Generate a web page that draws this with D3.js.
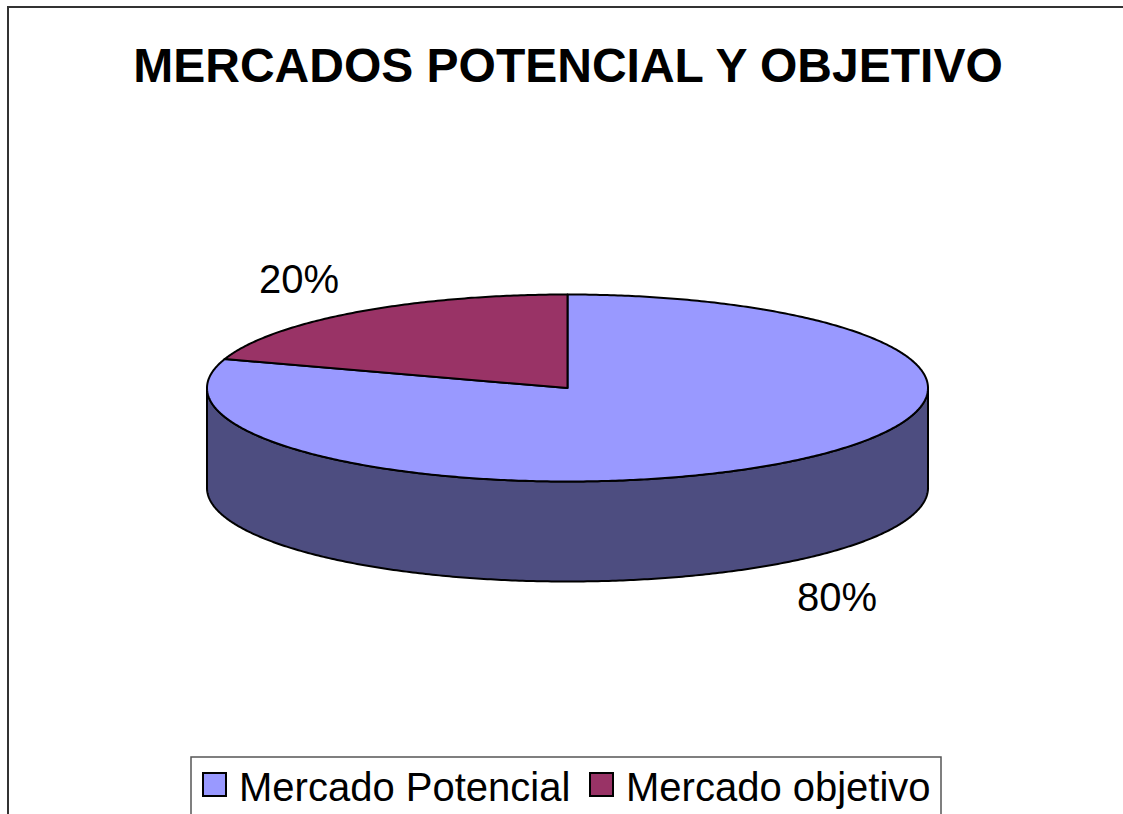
<!DOCTYPE html>
<html><head><meta charset="utf-8">
<script src="https://cdn.jsdelivr.net/npm/d3@7"></script>
<style>html,body{margin:0;padding:0;background:#fff;}svg{display:block;font-family:Arial,"Liberation Sans",sans-serif;}</style>
</head><body>
<svg id="chart" width="1123" height="814"></svg>
<script>
const title = "MERCADOS POTENCIAL Y OBJETIVO";
const categories = ["Mercado Potencial", "Mercado objetivo"];
const values = [80, 20];
const labels = ["80%", "20%"];
const topColors = ["#9999FF", "#993366"];
const sideColors = ["#4D4D80", "#4D1A33"];

const svg = d3.select("#chart");
const W = 1123, H = 814;
const cx = 567.5, cy = 388, rx = 360.5, ry = 93.5, depth = 100;

// frame (top and left edges visible)
svg.append("path").attr("d", `M8,${H} L8,7 L${W},7`).attr("fill","none").attr("stroke","#333").attr("stroke-width",2);

svg.append("text").attr("x", 568).attr("y", 82).attr("text-anchor","middle")
  .attr("font-size", 48).attr("font-weight","bold").text(title);

const pie = d3.pie().sort(null).value(d => d)(values);
const px = a => cx + rx * Math.sin(a);
const py = (a, dz=0) => cy - ry * Math.cos(a) + dz;

function arcPts(a0, a1, dz) {
  const n = Math.max(2, Math.ceil(Math.abs(a1 - a0) / 0.01));
  const pts = [];
  for (let i = 0; i <= n; i++) { const a = a0 + (a1 - a0) * i / n; pts.push([px(a), py(a, dz)]); }
  return pts;
}
const line = d3.line();

// sides (front-visible part: angles between PI/2 and 3PI/2)
pie.forEach((p, i) => {
  const s = Math.max(p.startAngle, Math.PI/2), e = Math.min(p.endAngle, 3*Math.PI/2);
  if (e <= s) return;
  const top = arcPts(s, e, 0);
  const bot = arcPts(e, s, depth);
  svg.append("path").attr("d", line(top.concat(bot)) + "Z")
    .attr("fill", sideColors[i]).attr("stroke","#000").attr("stroke-width",2).attr("stroke-linejoin","round");
});

// tops
pie.forEach((p, i) => {
  const pts = [[cx, cy]].concat(arcPts(p.startAngle, p.endAngle, 0));
  svg.append("path").attr("d", line(pts) + "Z")
    .attr("fill", topColors[i]).attr("stroke","#000").attr("stroke-width",2).attr("stroke-linejoin","round");
});

// data labels
const labelPos = [[797, 611], [259, 293]];
pie.forEach((p, i) => {
  svg.append("text").attr("x", labelPos[i][0]).attr("y", labelPos[i][1])
    .attr("font-size", 40).text(labels[i]);
});

// legend
const lg = svg.append("g");
lg.append("rect").attr("x",191).attr("y",757).attr("width",750).attr("height",70)
  .attr("fill","#fff").attr("stroke","#555").attr("stroke-width",1.5);
const swX = [203, 590];
categories.forEach((c, i) => {
  lg.append("rect").attr("x", swX[i]).attr("y", 773).attr("width", 23).attr("height", 23)
    .attr("fill", topColors[i]).attr("stroke","#000").attr("stroke-width",2);
  lg.append("text").attr("x", swX[i] + 36).attr("y", 801).attr("font-size", 40).text(c);
});
</script>
</body></html>
